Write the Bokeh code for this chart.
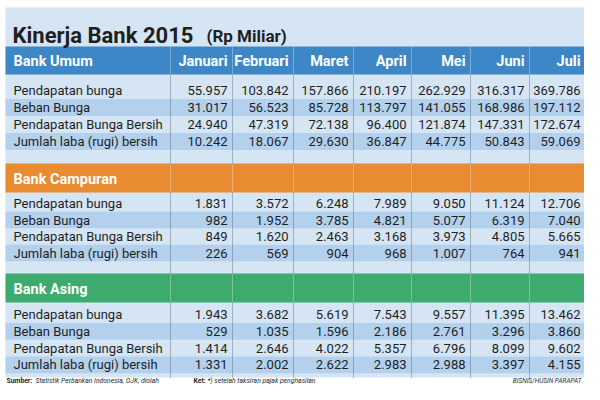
from bokeh.plotting import figure
from bokeh.core.properties import value
from bokeh.embed import file_html
from bokeh.resources import INLINE

# ---------------- data ----------------
title_main = "Kinerja Bank 2015"
title_unit = "(Rp Miliar)"
months = ["Januari", "Februari", "Maret", "April", "Mei", "Juni", "Juli"]
row_labels = ["Pendapatan bunga", "Beban Bunga", "Pendapatan Bunga Bersih",
              "Jumlah laba (rugi) bersih"]
groups = ["Bank Umum", "Bank Campuran", "Bank Asing"]

umum_pendapatan_bunga = [55957, 103842, 157866, 210197, 262929, 316317, 369786]
umum_beban_bunga = [31017, 56523, 85728, 113797, 141055, 168986, 197112]
umum_pendapatan_bersih = [24940, 47319, 72138, 96400, 121874, 147331, 172674]
umum_laba_bersih = [10242, 18067, 29630, 36847, 44775, 50843, 59069]

campuran_pendapatan_bunga = [1831, 3572, 6248, 7989, 9050, 11124, 12706]
campuran_beban_bunga = [982, 1952, 3785, 4821, 5077, 6319, 7040]
campuran_pendapatan_bersih = [849, 1620, 2463, 3168, 3973, 4805, 5665]
campuran_laba_bersih = [226, 569, 904, 968, 1007, 764, 941]

asing_pendapatan_bunga = [1943, 3682, 5619, 7543, 9557, 11395, 13462]
asing_beban_bunga = [529, 1035, 1596, 2186, 2761, 3296, 3860]
asing_pendapatan_bersih = [1414, 2646, 4022, 5357, 6796, 8099, 9602]
asing_laba_bersih = [1331, 2002, 2622, 2983, 2988, 3397, 4155]

source_note_label = "Sumber:"
source_note = "Statistik Perbankan Indonesia, OJK, diolah"
ket_label = "Ket:"
ket_note = "*) setelah taksiran pajak penghasilan"
credit = "BISNIS/HUSIN PARAPAT"

group_values = [
    [umum_pendapatan_bunga, umum_beban_bunga, umum_pendapatan_bersih, umum_laba_bersih],
    [campuran_pendapatan_bunga, campuran_beban_bunga, campuran_pendapatan_bersih, campuran_laba_bersih],
    [asing_pendapatan_bunga, asing_beban_bunga, asing_pendapatan_bersih, asing_laba_bersih],
]

# ---------------- layout / style ----------------
PANEL = "#d5e5f4"
DARK_ROW = "#b3d1ed"
BAR_COLORS = ["#3d87c7", "#e98b31", "#3dab6e"]
TEXT = "#1f1f1f"
FONT = value("Roboto")

panel_l, panel_r, panel_t, panel_b = 5, 590, 7, 377
col_edges = [170, 232, 293, 353, 411, 470, 529, 584]
bars = [(46, 74), (163, 192), (273, 302)]
first_centers = [90, 203, 314]
spacings = [17, 16.5, 16.8]
pads = [5, 5, 5, 5, 5, 5, 4]

p = figure(width=584, height=384, x_range=(0, 584), y_range=(384, 0),
           output_backend="svg", toolbar_location=None, min_border=0,
           x_axis_location=None, y_axis_location=None)
p.grid.visible = False
p.outline_line_color = None
p.background_fill_color = "white"
p.border_fill_color = "white"

# panel background
p.quad(left=[panel_l], right=[panel_r], top=[panel_t], bottom=[panel_b],
       fill_color=PANEL, line_color=None)

# dark stripes
sl, sr, st, sb = [], [], [], []
for gi in range(3):
    for k in range(4):
        if k % 2 == 1:
            c = first_centers[gi] + k * spacings[gi]
            sl.append(panel_l); sr.append(panel_r)
            st.append(c - spacings[gi] / 2); sb.append(c + spacings[gi] / 2)
p.quad(left=sl, right=sr, top=st, bottom=sb, fill_color=DARK_ROW, line_color=None)

# group bars
p.quad(left=[panel_l] * 3, right=[panel_r] * 3, top=[b[0] for b in bars],
       bottom=[b[1] for b in bars], fill_color=BAR_COLORS, line_color=None)

# dotted column separators through data regions
x0s, y0s, y1s = [], [], []
for gi in range(3):
    top = bars[gi][1]
    bot = bars[gi + 1][0] if gi < 2 else panel_b
    for e in col_edges[:-1]:
        x0s.append(e); y0s.append(top); y1s.append(bot)
p.segment(x0=x0s, y0=y0s, x1=x0s, y1=y1s, line_color="#4f5f70",
          line_alpha=0.8, line_width=1, line_dash="1 1")

# lighter separators inside the bars
hx0, hy0, hy1 = [], [], []
for gi in range(3):
    for e in col_edges[:-1]:
        hx0.append(e); hy0.append(bars[gi][0]); hy1.append(bars[gi][1])
p.segment(x0=hx0, y0=hy0, x1=hx0, y1=hy1, line_color="white",
          line_alpha=0.3, line_width=1)

# title
p.text(x=[12], y=[35], text=[title_main], text_font=FONT, text_font_size="22px",
       text_font_style="bold", text_color=TEXT, text_baseline="alphabetic")
p.text(x=[206], y=[35], text=[title_unit], text_font=FONT, text_font_size="17px",
       text_font_style="bold", text_color=TEXT, text_baseline="alphabetic")

# group names in bars
p.text(x=[13] * 3, y=[(b[0] + b[1]) / 2 + 1 for b in bars], text=groups,
       text_font=FONT, text_font_size="14.5px", text_font_style="bold",
       text_color="white", text_baseline="middle")

# month headers
p.text(x=[col_edges[m + 1] - pads[m] for m in range(7)],
       y=[(bars[0][0] + bars[0][1]) / 2 + 1] * 7,
       text=months, text_font=FONT, text_font_size="14.5px", text_font_style="bold",
       text_color="white", text_baseline="middle", text_align="right")

# row labels and values
def fmt(v):
    return f"{v:,}".replace(",", ".")

lx, ly, lt = [], [], []
vx, vy, vt = [], [], []
for gi in range(3):
    for k in range(4):
        c = first_centers[gi] + k * spacings[gi]
        lx.append(13); ly.append(c); lt.append(row_labels[k])
        for m in range(7):
            vx.append(col_edges[m + 1] - pads[m]); vy.append(c)
            vt.append(fmt(group_values[gi][k][m]))
p.text(x=lx, y=ly, text=lt, text_font=FONT, text_font_size="13px",
       text_color=TEXT, text_baseline="middle")
p.text(x=vx, y=vy, text=vt, text_font=FONT, text_font_size="13px",
       text_color=TEXT, text_baseline="middle", text_align="right")

# footer
fy = 380.5
p.text(x=[6], y=[fy], text=[source_note_label], text_font=FONT, text_font_size="6.8px",
       text_font_style="bold", text_color=TEXT, text_baseline="middle")
p.text(x=[35], y=[fy], text=[source_note], text_font=FONT, text_font_size="6.8px",
       text_font_style="italic", text_color=TEXT, text_baseline="middle")
p.text(x=[193], y=[fy], text=[ket_label], text_font=FONT, text_font_size="6.8px",
       text_font_style="bold", text_color=TEXT, text_baseline="middle")
p.text(x=[207], y=[fy], text=[ket_note], text_font=FONT, text_font_size="6.8px",
       text_font_style="italic", text_color=TEXT, text_baseline="middle")
p.text(x=[581], y=[fy], text=[credit], text_font=FONT, text_font_size="6.5px",
       text_font_style="italic", text_color=TEXT, text_baseline="middle",
       text_align="right")

open("out.html", "w").write(file_html(p, INLINE))
